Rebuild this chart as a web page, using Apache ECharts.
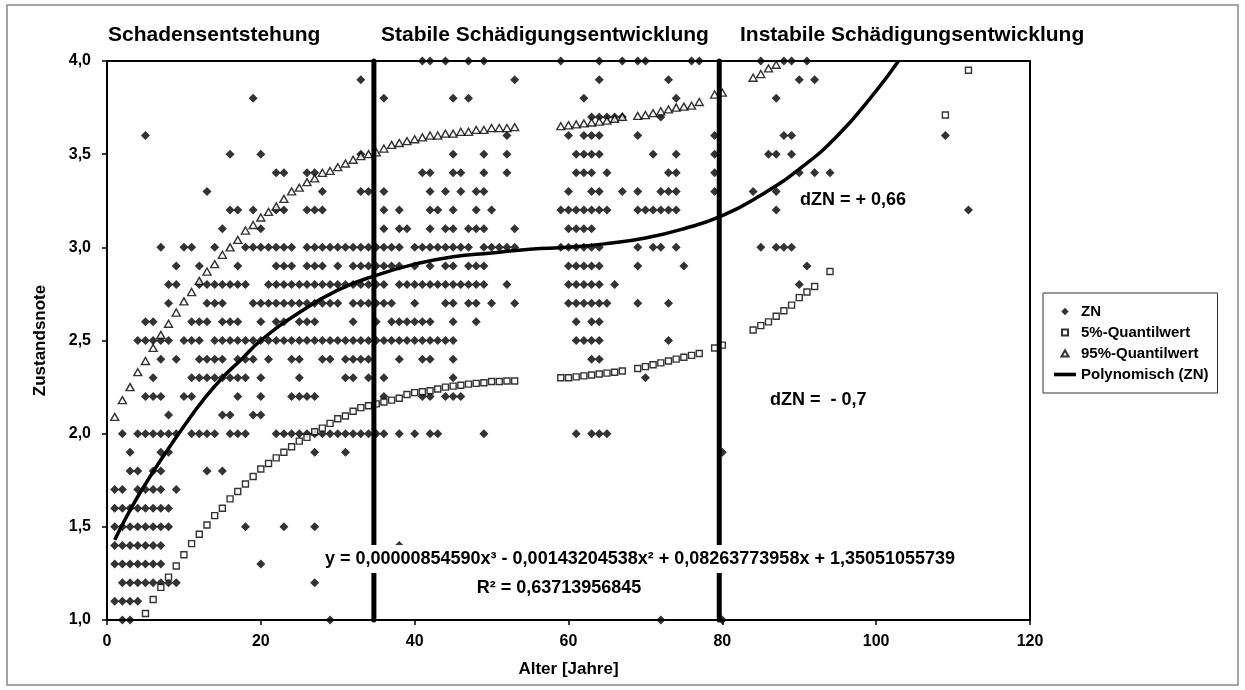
<!DOCTYPE html>
<html><head><meta charset="utf-8">
<script src="https://cdn.jsdelivr.net/npm/echarts/dist/echarts.min.js"></script>
<style>html,body{margin:0;padding:0;background:#fff}#c{width:1245px;height:690px}</style>
</head><body><div id="c"></div>
<script>
// ---- data ----
const znLevels = [4.0,3.9,3.8,3.7,3.6,3.5,3.4,3.3,3.2,3.1,3.0,2.9,2.8,2.7,2.6,2.5,2.4,2.3,2.2,2.1,2.0,1.9,1.8,1.7,1.6,1.5,1.4,1.3,1.2,1.1,1.0];
const znAges = [
  [41,42,44,47,49,59,64,67,69,70,76,77,85,88,89,91],
  [33,53,64,73,90,92],
  [19,36,45,47,62,74,87],
  [63,64,65,66,67,72],
  [5,52,60,62,63,64,69,79,88,89,109],
  [16,20,33,45,49,52,61,62,63,64,71,74,79,86,87,89],
  [22,23,26,27,41,42,45,46,49,52,61,62,63,65,73,74,79,90,92,94],
  [13,28,33,34,36,42,44,46,48,49,60,63,64,67,69,72,73,74,79,84,87],
  [16,17,19,22,23,26,27,28,36,38,42,43,45,48,50,59,60,61,62,63,64,65,69,70,71,72,73,74,87,112],
  [15,20,36,38,39,42,44,45,47,48,49,53,60,61,62,63],
  [7,10,11,14,18,19,20,21,22,23,24,26,27,28,29,30,31,32,33,34,35,36,37,38,40,41,42,43,44,45,46,47,49,50,51,52,53,59,60,61,62,63,64,69,71,72,74,85,87,88,89],
  [9,12,17,22,23,24,26,27,28,30,32,33,34,35,36,37,38,40,42,44,45,47,48,49,60,61,62,63,64,69,75,91],
  [8,9,12,13,14,15,16,17,18,21,22,23,24,25,26,27,28,29,30,31,32,33,34,35,36,38,39,40,41,42,43,44,45,46,47,48,49,52,60,61,62,63,64,66,90],
  [8,13,14,15,19,20,21,22,23,24,25,26,27,28,29,30,32,33,34,35,36,37,40,44,45,47,48,50,53,60,61,62,63,64,65,69,73],
  [5,6,11,12,13,15,16,17,20,22,23,25,26,27,32,35,37,38,39,40,41,42,45,48,61,63,64],
  [4,5,6,7,8,10,11,12,14,15,16,17,18,19,20,21,22,23,24,25,26,27,28,29,30,31,32,33,34,35,36,37,38,39,40,41,42,43,44,45,61,62,63,64,73],
  [7,9,12,13,14,15,17,18,19,21,24,25,28,29,31,32,33,34,38,41,42,45,63,64],
  [6,11,12,13,14,15,16,17,18,20,25,31,32,34,36,45,70],
  [5,6,7,10,11,17,20,24,25,26,27,36,41,42,44,45,46],
  [8,15,16,19,20],
  [2,4,5,6,7,8,9,11,12,13,14,16,17,18,22,23,24,25,26,27,28,29,30,31,32,33,34,35,36,38,40,42,43,49,61,63,64,65],
  [3,7,8,27,31,80],
  [3,4,6,7,13,15],
  [1,2,4,5,6,7,9],
  [1,2,3,4,5,6,7,8],
  [1,2,3,4,5,6,7,8,18,23,27],
  [1,2,3,4,5,6,7,38],
  [1,2,3,4,5,6,7,20],
  [2,3,4,5,6,7,8,9,27],
  [1,2,3,4],
  [2,3,29,72,80]
];
const q5Ages = [5,6,7,8,9,10,11,12,13,14,15,16,17,18,19,20,21,22,23,24,25,26,27,28,29,30,31,32,33,34,35,36,37,38,39,40,41,42,43,44,45,46,47,48,49,50,51,52,53,59,60,61,62,63,64,65,66,67,69,70,71,72,73,74,75,76,77,79,80,84,85,86,87,88,89,90,91,92,94,109,112];
const q5Vals = [1.035,1.11,1.175,1.23,1.29,1.35,1.41,1.46,1.51,1.56,1.60,1.65,1.69,1.73,1.77,1.81,1.84,1.87,1.90,1.93,1.96,1.98,2.01,2.03,2.055,2.08,2.095,2.12,2.14,2.15,2.16,2.17,2.18,2.19,2.21,2.22,2.225,2.23,2.24,2.25,2.255,2.26,2.266,2.27,2.273,2.28,2.28,2.283,2.283,2.30,2.30,2.305,2.31,2.315,2.32,2.325,2.33,2.336,2.35,2.36,2.37,2.38,2.39,2.40,2.41,2.42,2.43,2.46,2.475,2.556,2.58,2.60,2.63,2.66,2.69,2.73,2.76,2.79,2.87,3.71,3.95];
const q95Ages = [1,2,3,4,5,6,7,8,9,10,11,12,13,14,15,16,17,18,19,20,21,22,23,24,25,26,27,28,29,30,31,32,33,34,35,36,37,38,39,40,41,42,43,44,45,46,47,48,49,50,51,52,53,59,60,61,62,63,64,65,66,67,69,70,71,72,73,74,75,76,77,79,80,84,85,86,87];
const q95Vals = [2.09,2.18,2.25,2.33,2.39,2.46,2.53,2.59,2.65,2.71,2.76,2.82,2.87,2.91,2.96,3.00,3.04,3.09,3.12,3.16,3.19,3.22,3.26,3.30,3.32,3.35,3.37,3.40,3.41,3.43,3.45,3.47,3.49,3.50,3.51,3.53,3.55,3.56,3.57,3.58,3.59,3.60,3.60,3.61,3.61,3.62,3.62,3.63,3.63,3.64,3.64,3.64,3.645,3.65,3.655,3.66,3.665,3.67,3.675,3.68,3.69,3.70,3.705,3.71,3.72,3.73,3.74,3.75,3.755,3.76,3.78,3.82,3.83,3.91,3.93,3.96,3.98];
const trendAges = [1,3,5,7.5,10,12.5,15,17.5,20,25,30,35,40,45,50,55,60,65,70,75,80,85,90,95,100,102.9];
const trendVals = [1.43,1.59,1.73,1.89,2.04,2.18,2.30,2.40,2.50,2.65,2.77,2.85,2.91,2.95,2.97,2.99,3.00,3.02,3.05,3.10,3.17,3.28,3.42,3.60,3.84,4.0];
const phaseBounds = [34.7, 79.6];
const phaseTitles = ['Schadensentstehung','Stabile Schädigungsentwicklung','Instabile Schädigungsentwicklung'];
const xTicks = {min:0, max:120, interval:20};
const yTicks = {min:1, max:4, interval:0.5};

// ---- build ----
const FF = '"Liberation Sans", Arial, sans-serif';
const znData = [];
znLevels.forEach((v,i)=>znAges[i].forEach(a=>znData.push([a,v])));
const q5Data = q5Ages.map((a,i)=>[a,q5Vals[i]]);
const q95Data = q95Ages.map((a,i)=>[a,q95Vals[i]]);
const trendData = trendAges.map((a,i)=>[a,trendVals[i]]);

// legend icon paths: invisible zero-length corner points keep a 22x8 box so the symbol stays small and centred
const BOX = 'M0,0 L0,0 M22,8 L22,8 ';
const iconDiamond = 'path://' + BOX + 'M11,0.3 L14.7,4 L11,7.7 L7.3,4 Z';
const iconSquare = 'path://' + BOX + 'M8,1 L14,1 L14,7 L8,7 Z';
const iconTriangle = 'path://' + BOX + 'M11,0.8 L14.5,7 L7.5,7 Z';
const iconLine = 'path://' + BOX + 'M0,2.2 L22,2.2 L22,5.8 L0,5.8 Z';

const chart = echarts.init(document.getElementById('c'), null, {renderer:'canvas'});
const boundSeries = phaseBounds.map((b,i)=>({
  name:'bound'+i, type:'line', data:[[b,yTicks.min],[b,yTicks.max]], symbol:'none', silent:true,
  lineStyle:{color:'#000', width:5, cap:'round'}, z:6, clip:false
}));
const hollow = {color:'#fff', borderColor:'#000', borderWidth:1.4};
chart.setOption({
  animation:false,
  backgroundColor:'#fff',
  grid:{left:107, right:215, top:61, bottom:70, show:true, borderColor:'#000', borderWidth:2, backgroundColor:'transparent'},
  xAxis:{type:'value', min:xTicks.min, max:xTicks.max, interval:xTicks.interval,
    name:'Alter [Jahre]', nameLocation:'middle', nameGap:41,
    nameTextStyle:{fontFamily:FF, fontWeight:'bold', fontSize:17, color:'#000'},
    axisLine:{lineStyle:{color:'#000', width:2}},
    axisTick:{length:5, lineStyle:{color:'#000', width:1.5}},
    axisLabel:{fontFamily:FF, fontWeight:'bold', fontSize:16, color:'#000', margin:14},
    splitLine:{show:false}},
  yAxis:{type:'value', min:yTicks.min, max:yTicks.max, interval:yTicks.interval,
    name:'Zustandsnote', nameLocation:'middle', nameGap:58, nameRotate:90,
    nameTextStyle:{fontFamily:FF, fontWeight:'bold', fontSize:17, color:'#000'},
    axisLine:{lineStyle:{color:'#000', width:2}},
    axisTick:{length:5, lineStyle:{color:'#000', width:1.5}},
    axisLabel:{fontFamily:FF, fontWeight:'bold', fontSize:16, color:'#000', margin:16,
      formatter:v=>v.toFixed(1).replace('.', ',')},
    splitLine:{show:false}},
  legend:{
    data:[
      {name:'ZN', icon:iconDiamond},
      {name:'5%-Quantilwert', icon:iconSquare},
      {name:'95%-Quantilwert', icon:iconTriangle},
      {name:'Polynomisch (ZN)', icon:iconLine, itemStyle:{color:'#000', borderWidth:0}}
    ],
    orient:'vertical', left:1043, top:293, padding:[11,9,11,10], itemGap:6,
    itemWidth:22, itemHeight:8, selectedMode:false, symbolKeepAspect:true,
    borderColor:'#333', borderWidth:1, backgroundColor:'#fff',
    textStyle:{fontFamily:FF, fontWeight:'bold', fontSize:15, color:'#000'}},
  series:[
    {name:'ZN', type:'scatter', data:znData, symbol:'diamond', symbolSize:[9,9], itemStyle:{color:'#000'}, z:2},
    {name:'5%-Quantilwert', type:'scatter', data:q5Data, symbol:'rect', symbolSize:6, itemStyle:hollow, z:3},
    {name:'95%-Quantilwert', type:'scatter', data:q95Data, symbol:'triangle', symbolSize:[8,7], itemStyle:hollow, z:3},
    {name:'Polynomisch (ZN)', type:'line', data:trendData, smooth:true, symbol:'none', showSymbol:false,
      lineStyle:{color:'#000', width:3.5}, itemStyle:{color:'#000'}, z:4},
    ...boundSeries
  ],
  graphic:[
    {type:'rect', shape:{x:7, y:5, width:1231, height:680}, style:{fill:'none', stroke:'#888', lineWidth:1.5}, z:0, silent:true},
    {type:'text', x:108, y:35, z:20, style:{text:phaseTitles[0], font:'bold 21px '+FF, fill:'#000', align:'left', verticalAlign:'middle'}},
    {type:'text', x:381, y:35, z:20, style:{text:phaseTitles[1], font:'bold 21px '+FF, fill:'#000', align:'left', verticalAlign:'middle'}},
    {type:'text', x:740, y:35, z:20, style:{text:phaseTitles[2], font:'bold 21px '+FF, fill:'#000', align:'left', verticalAlign:'middle'}},
    {type:'text', x:640, y:559, z:20, style:{text:'y = 0,00000854590x³ - 0,00143204538x² + 0,08263773958x + 1,35051055739', font:'bold 18px '+FF, fill:'#000', align:'center', verticalAlign:'middle', backgroundColor:'#fff', padding:[5,6]}},
    {type:'text', x:559, y:588, z:20, style:{text:'R² = 0,63713956845', font:'bold 18px '+FF, fill:'#000', align:'center', verticalAlign:'middle'}},
    {type:'text', x:800, y:200, z:20, style:{text:'dZN = + 0,66', font:'bold 18px '+FF, fill:'#000', align:'left', verticalAlign:'middle'}},
    {type:'text', x:770, y:400, z:20, style:{text:'dZN =  - 0,7', font:'bold 18px '+FF, fill:'#000', align:'left', verticalAlign:'middle'}}
  ]
});
</script></body></html>
